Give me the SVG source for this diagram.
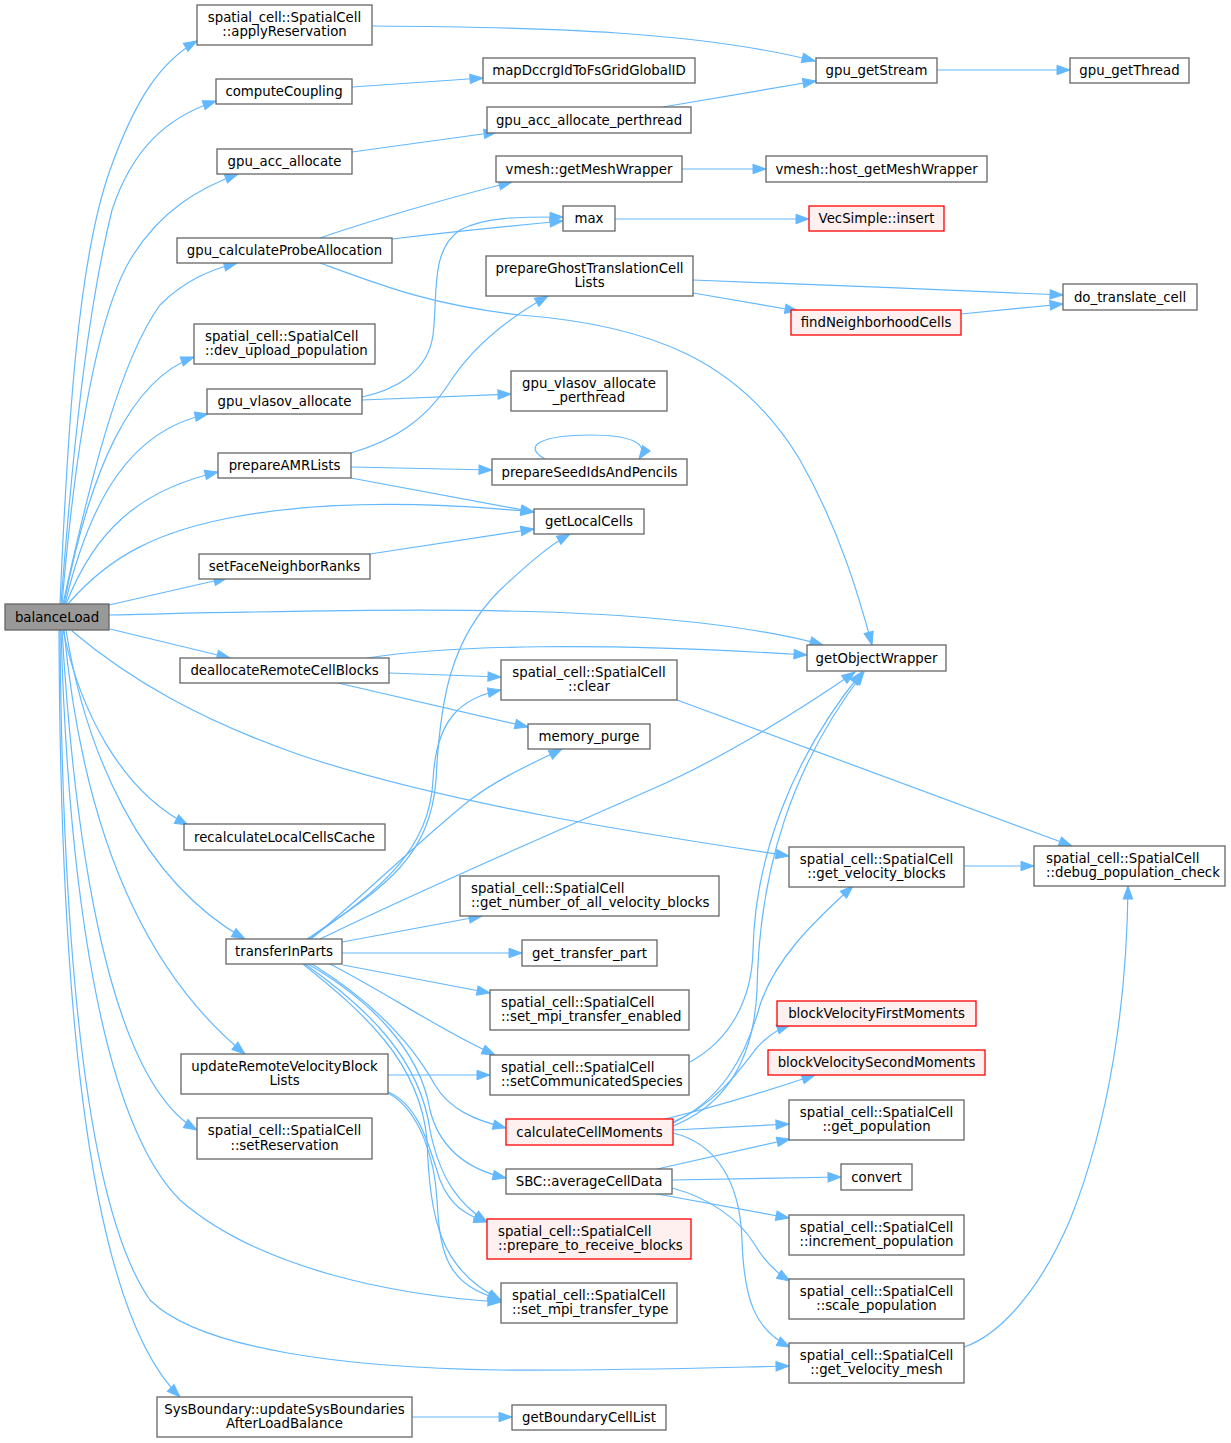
<svg xmlns="http://www.w3.org/2000/svg" width="1231" height="1443" viewBox="0 0 1231 1443">
<style>
.n rect{fill:#fff;stroke:#666;stroke-width:1.3}
.n.r rect{fill:#fff0f0;stroke:#ff0000}
.n.h rect{fill:#999}
text{font-family:"DejaVu Sans","Liberation Sans",sans-serif;font-size:13.3px;fill:#000}
.c{text-anchor:middle}
#edges path{fill:none;stroke:#63b8ff;stroke-width:1.2;marker-end:url(#a)}
</style>
<defs>
<marker id="a" markerUnits="userSpaceOnUse" markerWidth="16" markerHeight="12" refX="13" refY="5" orient="auto" overflow="visible">
<path d="M0,0.3 L13,5 L0,9.7 Z" fill="#63b8ff" stroke="#63b8ff" stroke-width="1"/>
</marker>
</defs>
<rect width="1231" height="1443" fill="#fff"/>
<g id="edges">
<path d="M60,604 C68,420 78,260 110,170 C135,100 160,62 197,41"/>
<path d="M61,604 C75,420 90,300 112,210 C132,150 165,118 216,101"/>
<path d="M62,604 C75,450 95,320 130,260 C160,210 200,188 238,174"/>
<path d="M63,604 C90,480 120,360 160,305 C185,280 210,270 237,263"/>
<path d="M64,604 C90,470 130,380 194,357"/>
<path d="M65,604 C90,500 130,430 208,414"/>
<path d="M66,604 C95,530 140,490 218,472"/>
<path d="M68,604 C110,555 160,530 240,516 C330,500 440,503 534,512"/>
<path d="M109,605 L227,578"/>
<path d="M109,615 C300,611 500,605 650,618 C720,624 780,633 823,645"/>
<path d="M110,629 L230,658"/>
<path d="M72,631 C130,680 200,720 300,755 C450,805 650,835 789,856"/>
<path d="M63,630 C80,710 120,790 188,825"/>
<path d="M66,630 C85,750 140,880 245,939"/>
<path d="M64,630 C80,800 130,960 245,1054"/>
<path d="M62,630 C75,850 110,1080 197,1130"/>
<path d="M61,630 C68,880 100,1120 180,1200 C260,1270 400,1296 501,1302"/>
<path d="M60,630 C62,900 80,1200 150,1300 C200,1350 350,1368 500,1370 C600,1371 700,1368 789,1366"/>
<path d="M59,630 C60,950 80,1300 180,1397"/>
<path d="M372,26 C550,27 700,32 815,61"/>
<path d="M352,87 L483,78"/>
<path d="M352,152 L497,132"/>
<path d="M663,107 L816,81"/>
<path d="M937,70 L1070,70"/>
<path d="M320,238 C360,224 440,200 512,182"/>
<path d="M392,239 C450,232 510,226 563,221"/>
<path d="M362,397 C395,390 428,372 433,335 C438,295 430,250 460,230 C485,216 525,217 563,217"/>
<path d="M362,400 L511,394"/>
<path d="M320,263 C380,285 430,305 520,315 C650,325 740,360 800,460 C840,530 860,600 872,645"/>
<path d="M682,169 L766,169"/>
<path d="M615,219 L809,219"/>
<path d="M351,453 C395,440 425,420 448,385 C470,350 505,320 548,296"/>
<path d="M351,467 L492,470"/>
<path d="M351,478 L534,512"/>
<path d="M545,459 C520,445 545,435 590,435 C630,435 650,443 639,459"/>
<path d="M693,280 C800,284 950,290 1063,295"/>
<path d="M693,293 L798,311"/>
<path d="M961,314 L1063,304"/>
<path d="M370,554 L534,529"/>
<path d="M367,658 C450,645 600,642 807,655"/>
<path d="M389,673 L501,677"/>
<path d="M338,683 L528,727"/>
<path d="M677,700 L1072,846"/>
<path d="M307,939 C380,890 430,860 436,780 C440,700 450,640 500,590 C530,562 550,545 570,534"/>
<path d="M309,939 C380,890 430,850 433,780 C436,720 460,698 501,690"/>
<path d="M311,939 C370,890 420,840 470,800 C500,777 540,760 562,749"/>
<path d="M320,939 C420,890 560,830 650,790 C720,760 800,710 855,672"/>
<path d="M342,942 L482,916"/>
<path d="M342,953 L522,953"/>
<path d="M343,965 L490,993"/>
<path d="M330,964 C390,995 440,1030 495,1055"/>
<path d="M312,964 C370,1000 410,1040 435,1085 C450,1110 475,1120 506,1128"/>
<path d="M308,964 C370,1000 420,1050 430,1110 C440,1150 470,1170 506,1178"/>
<path d="M305,964 C370,1010 420,1060 430,1130 C440,1180 460,1205 487,1222"/>
<path d="M303,964 C360,1010 420,1060 427,1140 C430,1220 440,1270 501,1300"/>
<path d="M388,1075 L490,1075"/>
<path d="M388,1092 C420,1105 430,1150 440,1180 C450,1205 465,1215 487,1222"/>
<path d="M388,1093 C420,1110 435,1160 437,1200 C440,1260 450,1285 501,1300"/>
<path d="M690,1062 C730,1040 752,1000 753,950 C755,860 790,760 862,672"/>
<path d="M673,1126 C725,1105 754,1060 757,990 C759,870 792,765 864,672"/>
<path d="M673,1123 C720,1100 745,1060 760,1005 C775,960 810,925 853,886"/>
<path d="M673,1122 C715,1105 740,1070 755,1050 C765,1038 775,1030 790,1025"/>
<path d="M665,1119 C720,1106 770,1090 815,1075"/>
<path d="M673,1130 L789,1124"/>
<path d="M673,1133 C715,1143 740,1180 742,1240 C744,1300 755,1330 790,1347"/>
<path d="M657,1169 L790,1139"/>
<path d="M672,1180 L841,1177"/>
<path d="M657,1194 L789,1218"/>
<path d="M672,1188 C710,1198 740,1220 755,1245 C765,1262 775,1272 790,1281"/>
<path d="M964,866 L1034,866"/>
<path d="M964,1347 C1000,1335 1040,1290 1070,1220 C1110,1120 1127,1000 1128,886"/>
<path d="M412,1417 L512,1417"/>
</g>
<g id="balanceLoad" class="n h"><rect x="5" y="604" width="104" height="26"/><text class="c" x="57" y="621.5">balanceLoad</text></g>
<g id="applyReservation" class="n"><rect x="197" y="5" width="175" height="40"/><text class="c" x="284.5" y="21.5">spatial_cell::SpatialCell</text><text class="c" x="284.5" y="36">::applyReservation</text></g>
<g id="computeCoupling" class="n"><rect x="216" y="79" width="136" height="25"/><text class="c" x="284" y="96">computeCoupling</text></g>
<g id="gpu_acc_allocate" class="n"><rect x="217" y="149" width="135" height="25"/><text class="c" x="284.5" y="166">gpu_acc_allocate</text></g>
<g id="gpu_calculateProbeAllocation" class="n"><rect x="177" y="238" width="215" height="25"/><text class="c" x="284.5" y="255">gpu_calculateProbeAllocation</text></g>
<g id="dev_upload_population" class="n"><rect x="194" y="324" width="181" height="40"/><text x="205" y="340.5">spatial_cell::SpatialCell</text><text x="205" y="355">::dev_upload_population</text></g>
<g id="gpu_vlasov_allocate" class="n"><rect x="207" y="389" width="155" height="25"/><text class="c" x="284.5" y="406">gpu_vlasov_allocate</text></g>
<g id="prepareAMRLists" class="n"><rect x="218" y="453" width="133" height="25"/><text class="c" x="284.5" y="470">prepareAMRLists</text></g>
<g id="setFaceNeighborRanks" class="n"><rect x="199" y="554" width="171" height="25"/><text class="c" x="284.5" y="571">setFaceNeighborRanks</text></g>
<g id="deallocateRemoteCellBlocks" class="n"><rect x="180" y="658" width="209" height="25"/><text class="c" x="284.5" y="675">deallocateRemoteCellBlocks</text></g>
<g id="recalculateLocalCellsCache" class="n"><rect x="184" y="824" width="201" height="26"/><text class="c" x="284.5" y="841.5">recalculateLocalCellsCache</text></g>
<g id="transferInParts" class="n"><rect x="226" y="939" width="116" height="25"/><text class="c" x="284" y="956">transferInParts</text></g>
<g id="updateRemoteVelocityBlockLists" class="n"><rect x="181" y="1054" width="207" height="40"/><text class="c" x="284.5" y="1070.5">updateRemoteVelocityBlock</text><text class="c" x="284.5" y="1085">Lists</text></g>
<g id="setReservation" class="n"><rect x="197" y="1118" width="175" height="41"/><text class="c" x="284.5" y="1135">spatial_cell::SpatialCell</text><text class="c" x="284.5" y="1149.5">::setReservation</text></g>
<g id="updateSysBoundariesAfterLoadBalance" class="n"><rect x="157" y="1397" width="255" height="40"/><text class="c" x="284.5" y="1413.5">SysBoundary::updateSysBoundaries</text><text class="c" x="284.5" y="1428">AfterLoadBalance</text></g>
<g id="mapDccrgIdToFsGridGlobalID" class="n"><rect x="483" y="58" width="212" height="25"/><text class="c" x="589" y="75">mapDccrgIdToFsGridGlobalID</text></g>
<g id="gpu_acc_allocate_perthread" class="n"><rect x="487" y="107" width="204" height="26"/><text class="c" x="589" y="124.5">gpu_acc_allocate_perthread</text></g>
<g id="getMeshWrapper" class="n"><rect x="496" y="156" width="186" height="26"/><text class="c" x="589" y="173.5">vmesh::getMeshWrapper</text></g>
<g id="max" class="n"><rect x="563" y="206" width="52" height="25"/><text class="c" x="589" y="223">max</text></g>
<g id="prepareGhostTranslationCellLists" class="n"><rect x="486" y="256" width="207" height="40"/><text class="c" x="589.5" y="272.5">prepareGhostTranslationCell</text><text class="c" x="589.5" y="287">Lists</text></g>
<g id="gpu_vlasov_allocate_perthread" class="n"><rect x="511" y="371" width="156" height="40"/><text class="c" x="589" y="387.5">gpu_vlasov_allocate</text><text class="c" x="589" y="402">_perthread</text></g>
<g id="prepareSeedIdsAndPencils" class="n"><rect x="492" y="459" width="195" height="26"/><text class="c" x="589.5" y="476.5">prepareSeedIdsAndPencils</text></g>
<g id="getLocalCells" class="n"><rect x="534" y="509" width="110" height="25"/><text class="c" x="589" y="526">getLocalCells</text></g>
<g id="clear" class="n"><rect x="501" y="660" width="176" height="40"/><text class="c" x="589" y="676.5">spatial_cell::SpatialCell</text><text class="c" x="589" y="691">::clear</text></g>
<g id="memory_purge" class="n"><rect x="528" y="724" width="122" height="25"/><text class="c" x="589" y="741">memory_purge</text></g>
<g id="get_number_of_all_velocity_blocks" class="n"><rect x="460" y="876" width="259" height="40"/><text x="471" y="892.5">spatial_cell::SpatialCell</text><text x="471" y="907">::get_number_of_all_velocity_blocks</text></g>
<g id="get_transfer_part" class="n"><rect x="522" y="940" width="135" height="26"/><text class="c" x="589.5" y="957.5">get_transfer_part</text></g>
<g id="set_mpi_transfer_enabled" class="n"><rect x="490" y="990" width="199" height="40"/><text x="501" y="1006.5">spatial_cell::SpatialCell</text><text x="501" y="1021">::set_mpi_transfer_enabled</text></g>
<g id="setCommunicatedSpecies" class="n"><rect x="490" y="1055" width="199" height="40"/><text x="501" y="1071.5">spatial_cell::SpatialCell</text><text x="501" y="1086">::setCommunicatedSpecies</text></g>
<g id="calculateCellMoments" class="n r"><rect x="506" y="1119" width="167" height="26"/><text class="c" x="589.5" y="1136.5">calculateCellMoments</text></g>
<g id="averageCellData" class="n"><rect x="506" y="1169" width="166" height="25"/><text class="c" x="589" y="1186">SBC::averageCellData</text></g>
<g id="prepare_to_receive_blocks" class="n r"><rect x="487" y="1219" width="204" height="40"/><text x="498" y="1235.5">spatial_cell::SpatialCell</text><text x="498" y="1250">::prepare_to_receive_blocks</text></g>
<g id="set_mpi_transfer_type" class="n"><rect x="501" y="1283" width="176" height="40"/><text x="512" y="1299.5">spatial_cell::SpatialCell</text><text x="512" y="1314">::set_mpi_transfer_type</text></g>
<g id="getBoundaryCellList" class="n"><rect x="512" y="1405" width="154" height="25"/><text class="c" x="589" y="1422">getBoundaryCellList</text></g>
<g id="gpu_getStream" class="n"><rect x="816" y="58" width="121" height="25"/><text class="c" x="876.5" y="75">gpu_getStream</text></g>
<g id="host_getMeshWrapper" class="n"><rect x="766" y="156" width="221" height="26"/><text class="c" x="876.5" y="173.5">vmesh::host_getMeshWrapper</text></g>
<g id="VecSimple_insert" class="n r"><rect x="809" y="206" width="135" height="25"/><text class="c" x="876.5" y="223">VecSimple::insert</text></g>
<g id="findNeighborhoodCells" class="n r"><rect x="791" y="310" width="170" height="25"/><text class="c" x="876" y="327">findNeighborhoodCells</text></g>
<g id="getObjectWrapper" class="n"><rect x="807" y="645" width="139" height="26"/><text class="c" x="876.5" y="662.5">getObjectWrapper</text></g>
<g id="get_velocity_blocks" class="n"><rect x="789" y="847" width="175" height="40"/><text class="c" x="876.5" y="863.5">spatial_cell::SpatialCell</text><text class="c" x="876.5" y="878">::get_velocity_blocks</text></g>
<g id="blockVelocityFirstMoments" class="n r"><rect x="777" y="1001" width="199" height="25"/><text class="c" x="876.5" y="1018">blockVelocityFirstMoments</text></g>
<g id="blockVelocitySecondMoments" class="n r"><rect x="768" y="1050" width="217" height="25"/><text class="c" x="876.5" y="1067">blockVelocitySecondMoments</text></g>
<g id="get_population" class="n"><rect x="789" y="1100" width="175" height="40"/><text class="c" x="876.5" y="1116.5">spatial_cell::SpatialCell</text><text class="c" x="876.5" y="1131">::get_population</text></g>
<g id="convert" class="n"><rect x="841" y="1164" width="71" height="26"/><text class="c" x="876.5" y="1181.5">convert</text></g>
<g id="increment_population" class="n"><rect x="789" y="1215" width="175" height="40"/><text class="c" x="876.5" y="1231.5">spatial_cell::SpatialCell</text><text class="c" x="876.5" y="1246">::increment_population</text></g>
<g id="scale_population" class="n"><rect x="789" y="1279" width="175" height="40"/><text class="c" x="876.5" y="1295.5">spatial_cell::SpatialCell</text><text class="c" x="876.5" y="1310">::scale_population</text></g>
<g id="get_velocity_mesh" class="n"><rect x="789" y="1343" width="175" height="40"/><text class="c" x="876.5" y="1359.5">spatial_cell::SpatialCell</text><text class="c" x="876.5" y="1374">::get_velocity_mesh</text></g>
<g id="gpu_getThread" class="n"><rect x="1070" y="58" width="119" height="25"/><text class="c" x="1129.5" y="75">gpu_getThread</text></g>
<g id="do_translate_cell" class="n"><rect x="1063" y="284" width="134" height="26"/><text class="c" x="1130" y="301.5">do_translate_cell</text></g>
<g id="debug_population_check" class="n"><rect x="1034" y="846" width="191" height="40"/><text x="1046" y="862.5">spatial_cell::SpatialCell</text><text x="1046" y="877">::debug_population_check</text></g>
</svg>
